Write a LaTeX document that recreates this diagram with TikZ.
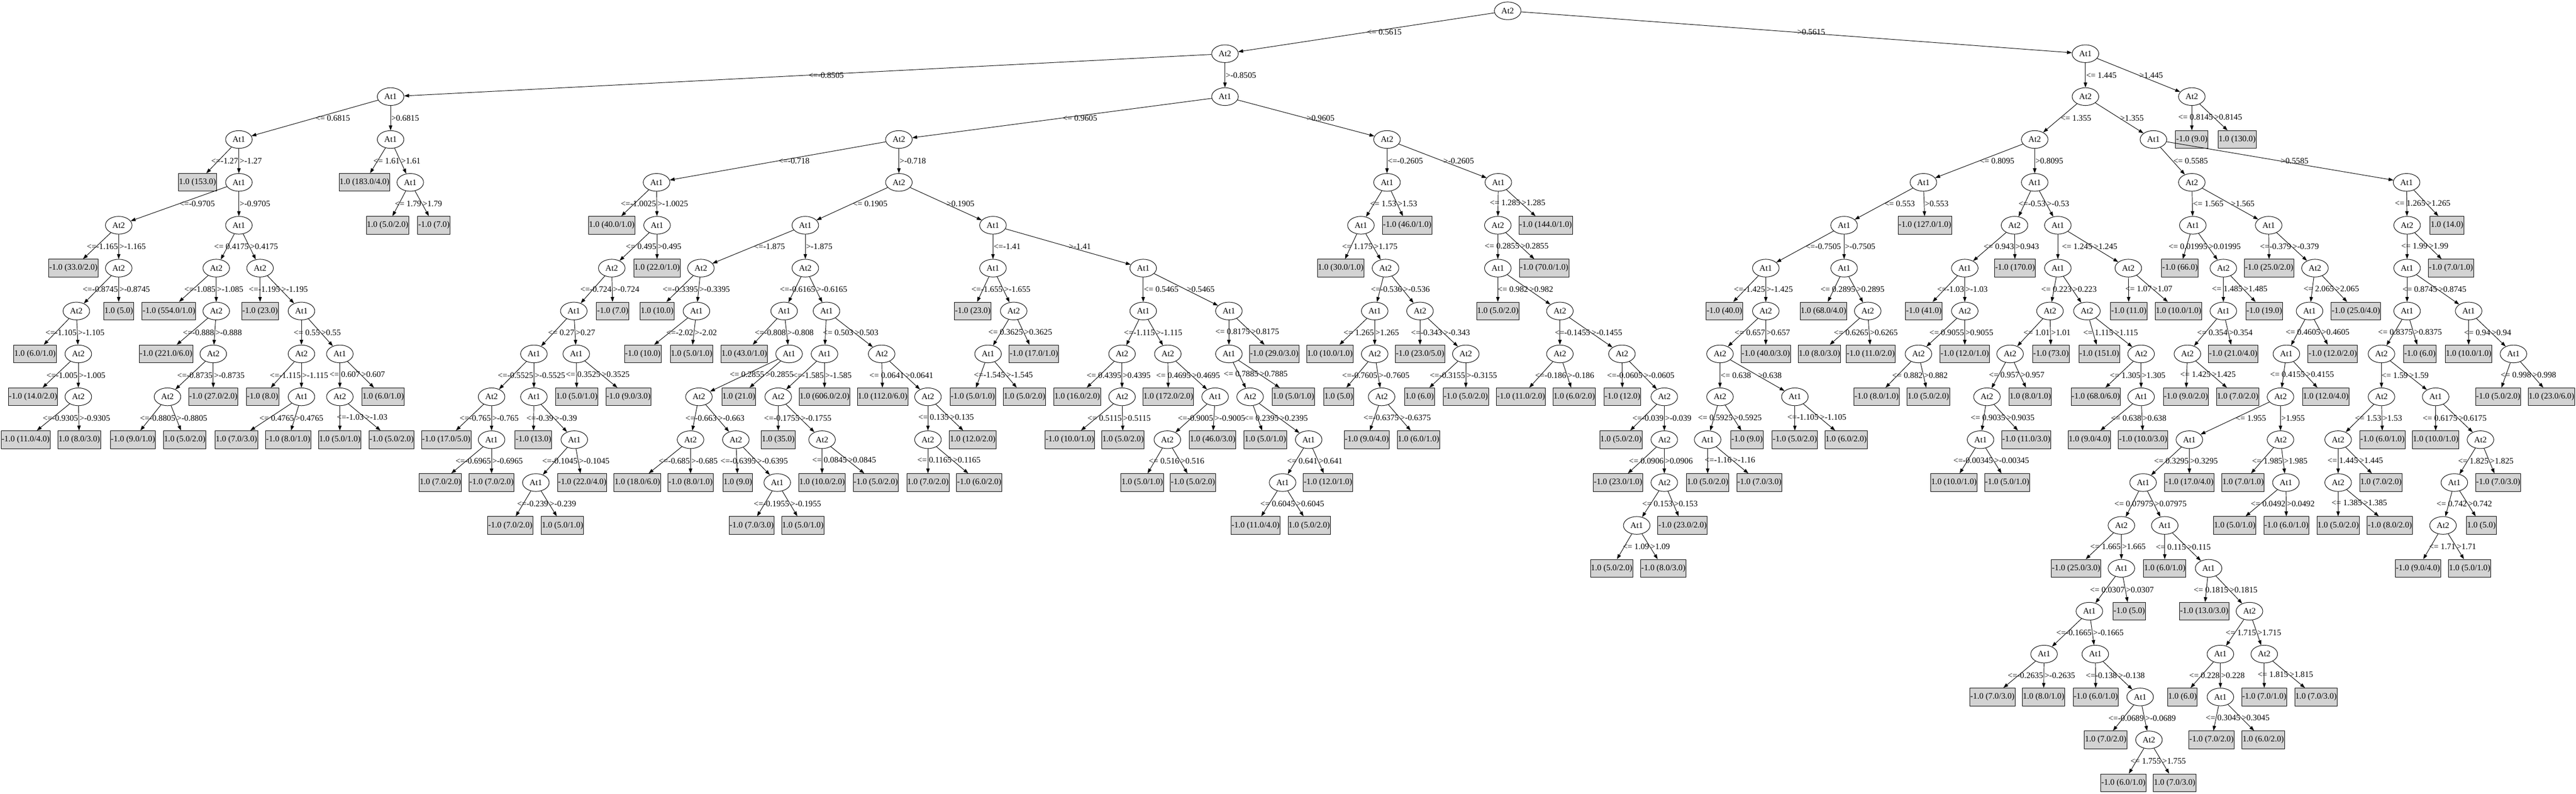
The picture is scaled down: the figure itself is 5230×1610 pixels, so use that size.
\documentclass[tikz,border=0pt]{standalone}
\usepackage{fontspec}
\setmainfont{Liberation Serif}
\usetikzlibrary{shapes.geometric}
\usetikzlibrary{arrows.meta}
\definecolor{leafgray}{HTML}{D3D3D3}
\tikzset{attnode/.style={ellipse,draw,line width=1pt,fill=white,minimum width=54pt,minimum height=36pt,inner sep=0pt},
	leafnode/.style={rectangle,draw,line width=1pt,fill=leafgray,minimum width=54pt,minimum height=36pt,inner xsep=1pt,inner ysep=0pt},
	cond/.style={anchor=west,inner sep=1pt},
	lcond/.style={anchor=east,inner sep=1pt}}

\begin{document}
\begin{tikzpicture}[x=1pt,y=-87pt,font=\fontsize{17}{20}\selectfont]
		\useasboundingbox (0pt,22pt) rectangle (5230pt,-1588pt);
		\begin{scope}[every node/.style={attnode}]
			\node (root) at (3061,0) {At2};
			\node (A) at (2487,1) {At2};
			\node (B) at (4234,1) {At1};
			\node (A1) at (793,2) {At1};
			\node (A2) at (2487,2) {At1};
			\node (A11) at (485,3) {At1};
			\node (A12) at (793,3) {At1};
			\node (A112) at (485,4) {At1};
			\node (A122) at (833,4) {At1};
			\node (N1) at (241,5) {At2};
			\node (N2) at (485,5) {At1};
			\node (N11) at (241,6) {At2};
			\node (N111) at (155,7) {At2};
			\node (N1111) at (159,8) {At2};
			\node (N11112) at (159,9) {At2};
			\node (N21) at (439,6) {At2};
			\node (N22) at (528,6) {At2};
			\node (N212) at (439,7) {At2};
			\node (N2122) at (433,8) {At2};
			\node (N21221) at (340,9) {At2};
			\node (N222) at (612,7) {At1};
			\node (N2221) at (612,8) {At2};
			\node (N2222) at (690,8) {At1};
			\node (N22212) at (612,9) {At1};
			\node (N22221) at (690,9) {At2};
			\node (B1) at (1825,3) {At2};
			\node (B2) at (2816,3) {At2};
			\node (C1) at (1333,4) {At1};
			\node (C2) at (1825,4) {At2};
			\node (C12) at (1334,5) {At1};
			\node (C121) at (1242,6) {At2};
			\node (C1211) at (1165,7) {At1};
			\node (D1) at (1084,8) {At1};
			\node (D2) at (1170,8) {At1};
			\node (D11) at (998,9) {At2};
			\node (D12) at (1084,9) {At1};
			\node (D112) at (998,10) {At1};
			\node (D122) at (1166,10) {At1};
			\node (D1221) at (1088,11) {At1};
			\node (E1) at (1635,5) {At1};
			\node (E2) at (2016,5) {At1};
			\node (E11) at (1423,6) {At2};
			\node (E12) at (1635,6) {At2};
			\node (E112) at (1414,7) {At1};
			\node (E121) at (1592,7) {At1};
			\node (E122) at (1678,7) {At1};
			\node (E1212) at (1602,8) {At1};
			\node (F1) at (1419,9) {At2};
			\node (F11) at (1402,10) {At2};
			\node (F12) at (1494,10) {At2};
			\node (F122) at (1578,11) {At1};
			\node (G1) at (1674,8) {At1};
			\node (G2) at (1790,8) {At2};
			\node (G11) at (1580,9) {At2};
			\node (G112) at (1669,10) {At2};
			\node (G22) at (1884,9) {At2};
			\node (G221) at (1884,10) {At2};
			\node (H1) at (2016,6) {At1};
			\node (H2) at (2321,6) {At1};
			\node (H12) at (2058,7) {At2};
			\node (H121) at (2006,8) {At1};
			\node (H21) at (2321,7) {At1};
			\node (H22) at (2495,7) {At1};
			\node (H211) at (2278,8) {At2};
			\node (H212) at (2371,8) {At2};
			\node (H2112) at (2278,9) {At2};
			\node (H2122) at (2467,9) {At1};
			\node (H21221) at (2370,10) {At2};
			\node (H221) at (2495,8) {At1};
			\node (H2211) at (2538,9) {At2};
			\node (H22112) at (2657,10) {At1};
			\node (H221121) at (2604,11) {At1};
			\node (J1) at (2816,4) {At1};
			\node (J2) at (3042,4) {At1};
			\node (J11) at (2763,5) {At1};
			\node (J112) at (2813,6) {At2};
			\node (J1121) at (2791,7) {At1};
			\node (J1122) at (2883,7) {At2};
			\node (J11212) at (2791,8) {At2};
			\node (J112122) at (2805,9) {At2};
			\node (J11222) at (2976,8) {At2};
			\node (K1) at (3041,5) {At2};
			\node (K11) at (3041,6) {At1};
			\node (K112) at (3167,7) {At2};
			\node (K1121) at (3167,8) {At2};
			\node (K1122) at (3293,8) {At2};
			\node (K11222) at (3379,9) {At2};
			\node (K112222) at (3379,10) {At2};
			\node (K1122222) at (3379,11) {At2};
			\node (K3) at (3323,12) {At1};
			\node (P1) at (4234,2) {At2};
			\node (P2) at (4450,2) {At2};
			\node (Q1) at (4131,3) {At2};
			\node (Q2) at (4372,3) {At1};
			\node (R1) at (3905,4) {At1};
			\node (R2) at (4131,4) {At1};
			\node (R11) at (3744,5) {At1};
			\node (R111) at (3585,6) {At1};
			\node (R112) at (3744,6) {At1};
			\node (R1112) at (3585,7) {At2};
			\node (R11121) at (3492,8) {At2};
			\node (R111211) at (3492,9) {At2};
			\node (R111212) at (3644,9) {At1};
			\node (S1) at (3467,10) {At1};
			\node (R1122) at (3792,7) {At2};
			\node (R21) at (4090,5) {At2};
			\node (R22) at (4178,5) {At1};
			\node (R211) at (3989,6) {At1};
			\node (R2112) at (3989,7) {At2};
			\node (R21121) at (3895,8) {At2};
			\node (R221) at (4178,6) {At1};
			\node (R222) at (4321,6) {At2};
			\node (R2211) at (4162,7) {At2};
			\node (R2212) at (4237,7) {At2};
			\node (R22111) at (4081,8) {At2};
			\node (R221111) at (4034,9) {At2};
			\node (R2211111) at (4021,10) {At1};
			\node (R22122) at (4347,8) {At2};
			\node (R221222) at (4347,9) {At1};
			\node (T1) at (4450,4) {At2};
			\node (T2) at (4886,4) {At1};
			\node (T11) at (4452,5) {At1};
			\node (T12) at (4606,5) {At1};
			\node (T112) at (4514,6) {At2};
			\node (T1121) at (4514,7) {At1};
			\node (T11211) at (4441,8) {At2};
			\node (T122) at (4700,6) {At2};
			\node (T1221) at (4689,7) {At1};
			\node (T12211) at (4642,8) {At1};
			\node (U) at (4630,9) {At2};
			\node (U1) at (4445,10) {At1};
			\node (U2) at (4630,10) {At2};
			\node (U11) at (4351,11) {At1};
			\node (U22) at (4641,11) {At1};
			\node (U111) at (4307,12) {At2};
			\node (U112) at (4395,12) {At1};
			\node (U1112) at (4307,13) {At1};
			\node (U11121) at (4242,14) {At1};
			\node (V1) at (4150,15) {At1};
			\node (V2) at (4254,15) {At1};
			\node (V22) at (4345,16) {At1};
			\node (V222) at (4363,17) {At2};
			\node (U1122) at (4484,13) {At1};
			\node (W) at (4567,14) {At2};
			\node (W1) at (4508,15) {At1};
			\node (W2) at (4597,15) {At2};
			\node (W12) at (4508,16) {At1};
			\node (X) at (4887,5) {At2};
			\node (X1) at (4887,6) {At1};
			\node (X11) at (4887,7) {At1};
			\node (X12) at (5012,7) {At1};
			\node (X111) at (4835,8) {At2};
			\node (X1111) at (4835,9) {At2};
			\node (X1112) at (4945,9) {At1};
			\node (X11111) at (4747,10) {At2};
			\node (X111111) at (4747,11) {At2};
			\node (X11122) at (5036,10) {At2};
			\node (X111221) at (4983,11) {At1};
			\node (X1112211) at (4960,12) {At2};
			\node (X122) at (5103,8) {At1};
		\end{scope}
		\begin{scope}[every node/.style={leafnode}]
			\node (A11l) at (401,4) {1.0 (153.0)};
			\node (A12l) at (740,4) {1.0 (183.0/4.0)};
			\node (A122l) at (787,5) {1.0 (5.0/2.0)};
			\node (A122r) at (881,5) {-1.0 (7.0)};
			\node (N1l) at (149,6) {-1.0 (33.0/2.0)};
			\node (N11r) at (241,7) {1.0 (5.0)};
			\node (N111l) at (71,8) {1.0 (6.0/1.0)};
			\node (N1111l) at (67,9) {-1.0 (14.0/2.0)};
			\node (N11112l) at (52,10) {-1.0 (11.0/4.0)};
			\node (N11112r) at (161,10) {1.0 (8.0/3.0)};
			\node (N21l) at (343,7) {-1.0 (554.0/1.0)};
			\node (N212l) at (337,8) {-1.0 (221.0/6.0)};
			\node (N2122r) at (433,9) {-1.0 (27.0/2.0)};
			\node (N21221l) at (270,10) {-1.0 (9.0/1.0)};
			\node (N21221r) at (375,10) {1.0 (5.0/2.0)};
			\node (N22l) at (528,7) {-1.0 (23.0)};
			\node (N2221l) at (533,9) {-1.0 (8.0)};
			\node (N22212l) at (480,10) {1.0 (7.0/3.0)};
			\node (N22212r) at (585,10) {-1.0 (8.0/1.0)};
			\node (N2222r) at (778,9) {1.0 (6.0/1.0)};
			\node (N22221l) at (690,10) {1.0 (5.0/1.0)};
			\node (N22221r) at (795,10) {-1.0 (5.0/2.0)};
			\node (C1l) at (1242,5) {1.0 (40.0/1.0)};
			\node (C12r) at (1334,6) {1.0 (22.0/1.0)};
			\node (C121r) at (1244,7) {-1.0 (7.0)};
			\node (D11l) at (906,10) {-1.0 (17.0/5.0)};
			\node (D112l) at (894,11) {1.0 (7.0/2.0)};
			\node (D112r) at (998,11) {-1.0 (7.0/2.0)};
			\node (D12l) at (1083,10) {-1.0 (13.0)};
			\node (D122r) at (1182,11) {-1.0 (22.0/4.0)};
			\node (D1221l) at (1036,12) {-1.0 (7.0/2.0)};
			\node (D1221r) at (1142,12) {1.0 (5.0/1.0)};
			\node (D2l) at (1171,9) {1.0 (5.0/1.0)};
			\node (D2r) at (1276,9) {-1.0 (9.0/3.0)};
			\node (E11l) at (1334,7) {1.0 (10.0)};
			\node (E112l) at (1305,8) {-1.0 (10.0)};
			\node (E112r) at (1404,8) {1.0 (5.0/1.0)};
			\node (E121l) at (1511,8) {1.0 (43.0/1.0)};
			\node (E1212r) at (1500,9) {1.0 (21.0)};
			\node (F11l) at (1294,11) {1.0 (18.0/6.0)};
			\node (F11r) at (1402,11) {-1.0 (8.0/1.0)};
			\node (F12l) at (1498,11) {1.0 (9.0)};
			\node (F122l) at (1526,12) {-1.0 (7.0/3.0)};
			\node (F122r) at (1630,12) {1.0 (5.0/1.0)};
			\node (G1r) at (1674,9) {1.0 (606.0/2.0)};
			\node (G11l) at (1580,10) {1.0 (35.0)};
			\node (G112l) at (1669,11) {1.0 (10.0/2.0)};
			\node (G112r) at (1778,11) {-1.0 (5.0/2.0)};
			\node (G2l) at (1792,9) {1.0 (112.0/6.0)};
			\node (G22r) at (1975,10) {1.0 (12.0/2.0)};
			\node (G221l) at (1884,11) {1.0 (7.0/2.0)};
			\node (G221r) at (1988,11) {-1.0 (6.0/2.0)};
			\node (H1l) at (1975,7) {-1.0 (23.0)};
			\node (H12r) at (2099,8) {-1.0 (17.0/1.0)};
			\node (H121l) at (1975,9) {-1.0 (5.0/1.0)};
			\node (H121r) at (2080,9) {1.0 (5.0/2.0)};
			\node (H211l) at (2187,9) {1.0 (16.0/2.0)};
			\node (H2112l) at (2172,10) {-1.0 (10.0/1.0)};
			\node (H2112r) at (2280,10) {1.0 (5.0/2.0)};
			\node (H212l) at (2372,9) {1.0 (172.0/2.0)};
			\node (H2122r) at (2462,10) {1.0 (46.0/3.0)};
			\node (H21221l) at (2319,11) {1.0 (5.0/1.0)};
			\node (H21221r) at (2422,11) {-1.0 (5.0/2.0)};
			\node (H22r) at (2587,8) {-1.0 (29.0/3.0)};
			\node (H221r) at (2626,9) {1.0 (5.0/1.0)};
			\node (H2211l) at (2569,10) {1.0 (5.0/1.0)};
			\node (H22112r) at (2696,11) {-1.0 (12.0/1.0)};
			\node (H221121l) at (2549,12) {-1.0 (11.0/4.0)};
			\node (H221121r) at (2658,12) {1.0 (5.0/2.0)};
			\node (J1r) at (2857,5) {-1.0 (46.0/1.0)};
			\node (J11l) at (2722,6) {1.0 (30.0/1.0)};
			\node (J1121l) at (2700,8) {1.0 (10.0/1.0)};
			\node (J11212l) at (2718,9) {1.0 (5.0)};
			\node (J112122l) at (2775,10) {-1.0 (9.0/4.0)};
			\node (J112122r) at (2880,10) {1.0 (6.0/1.0)};
			\node (J1122l) at (2883,8) {-1.0 (23.0/5.0)};
			\node (J11222l) at (2882,9) {1.0 (6.0)};
			\node (J11222r) at (2976,9) {-1.0 (5.0/2.0)};
			\node (J2r) at (3138,5) {-1.0 (144.0/1.0)};
			\node (K1r) at (3135,6) {-1.0 (70.0/1.0)};
			\node (K11l) at (3041,7) {1.0 (5.0/2.0)};
			\node (K1121l) at (3088,9) {-1.0 (11.0/2.0)};
			\node (K1121r) at (3196,9) {1.0 (6.0/2.0)};
			\node (K1122l) at (3294,9) {-1.0 (12.0)};
			\node (K11222l) at (3291,10) {1.0 (5.0/2.0)};
			\node (K112222l) at (3285,11) {-1.0 (23.0/1.0)};
			\node (K1122222r) at (3416,12) {-1.0 (23.0/2.0)};
			\node (K3l) at (3272,13) {1.0 (5.0/2.0)};
			\node (K3r) at (3377,13) {-1.0 (8.0/3.0)};
			\node (P2l) at (4450,3) {-1.0 (9.0)};
			\node (P2r) at (4542,3) {1.0 (130.0)};
			\node (R1r) at (3908,5) {-1.0 (127.0/1.0)};
			\node (R111l) at (3501,7) {-1.0 (40.0)};
			\node (R1112r) at (3585,8) {-1.0 (40.0/3.0)};
			\node (R111211r) at (3547,10) {-1.0 (9.0)};
			\node (S1l) at (3467,11) {1.0 (5.0/2.0)};
			\node (S1r) at (3572,11) {-1.0 (7.0/3.0)};
			\node (R111212l) at (3644,10) {-1.0 (5.0/2.0)};
			\node (R111212r) at (3748,10) {1.0 (6.0/2.0)};
			\node (R112l) at (3702,7) {1.0 (68.0/4.0)};
			\node (R1122l) at (3694,8) {1.0 (8.0/3.0)};
			\node (R1122r) at (3798,8) {-1.0 (11.0/2.0)};
			\node (R21r) at (4091,6) {-1.0 (170.0)};
			\node (R211l) at (3906,7) {-1.0 (41.0)};
			\node (R2112r) at (3989,8) {-1.0 (12.0/1.0)};
			\node (R21121l) at (3810,9) {-1.0 (8.0/1.0)};
			\node (R21121r) at (3915,9) {1.0 (5.0/2.0)};
			\node (R2211r) at (4164,8) {-1.0 (73.0)};
			\node (R22111r) at (4122,9) {1.0 (8.0/1.0)};
			\node (R221111r) at (4114,10) {-1.0 (11.0/3.0)};
			\node (R2211111l) at (3967,11) {1.0 (10.0/1.0)};
			\node (R2211111r) at (4075,11) {-1.0 (5.0/1.0)};
			\node (R2212l) at (4262,8) {-1.0 (151.0)};
			\node (R22122l) at (4255,9) {-1.0 (68.0/6.0)};
			\node (R221222l) at (4242,10) {1.0 (9.0/4.0)};
			\node (R221222r) at (4351,10) {-1.0 (10.0/3.0)};
			\node (R222l) at (4322,7) {-1.0 (11.0)};
			\node (R222r) at (4423,7) {1.0 (10.0/1.0)};
			\node (T11l) at (4426,6) {-1.0 (66.0)};
			\node (T112r) at (4597,7) {-1.0 (19.0)};
			\node (T1121r) at (4534,8) {-1.0 (21.0/4.0)};
			\node (T11211l) at (4438,9) {-1.0 (9.0/2.0)};
			\node (T11211r) at (4543,9) {1.0 (7.0/2.0)};
			\node (T12l) at (4607,6) {-1.0 (25.0/2.0)};
			\node (T122r) at (4783,7) {-1.0 (25.0/4.0)};
			\node (T1221r) at (4736,8) {-1.0 (12.0/2.0)};
			\node (T12211r) at (4722,9) {1.0 (12.0/4.0)};
			\node (U1r) at (4445,11) {-1.0 (17.0/4.0)};
			\node (U2l) at (4554,11) {1.0 (7.0/1.0)};
			\node (U22l) at (4537,12) {1.0 (5.0/1.0)};
			\node (U22r) at (4642,12) {-1.0 (6.0/1.0)};
			\node (U111l) at (4215,13) {-1.0 (25.0/3.0)};
			\node (U1112r) at (4323,14) {-1.0 (5.0)};
			\node (V1l) at (4045,16) {-1.0 (7.0/3.0)};
			\node (V1r) at (4149,16) {1.0 (8.0/1.0)};
			\node (V2l) at (4255,16) {-1.0 (6.0/1.0)};
			\node (V22l) at (4275,17) {1.0 (7.0/2.0)};
			\node (V222l) at (4311,18) {-1.0 (6.0/1.0)};
			\node (V222r) at (4415,18) {1.0 (7.0/3.0)};
			\node (U112l) at (4395,13) {1.0 (6.0/1.0)};
			\node (U1122l) at (4475,14) {-1.0 (13.0/3.0)};
			\node (W1l) at (4431,16) {1.0 (6.0)};
			\node (W12l) at (4490,17) {-1.0 (7.0/2.0)};
			\node (W12r) at (4595,17) {1.0 (6.0/2.0)};
			\node (W2l) at (4597,16) {-1.0 (7.0/1.0)};
			\node (W2r) at (4702,16) {1.0 (7.0/3.0)};
			\node (T2r) at (4968,5) {1.0 (14.0)};
			\node (Xr) at (4976,6) {-1.0 (7.0/1.0)};
			\node (X11r) at (4913,8) {-1.0 (6.0)};
			\node (X1111r) at (4837,10) {-1.0 (6.0/1.0)};
			\node (X11111r) at (4834,11) {1.0 (7.0/2.0)};
			\node (X111111l) at (4747,12) {1.0 (5.0/2.0)};
			\node (X111111r) at (4852,12) {-1.0 (8.0/2.0)};
			\node (X1112l) at (4945,10) {1.0 (10.0/1.0)};
			\node (X11122r) at (5072,11) {-1.0 (7.0/3.0)};
			\node (X111221r) at (5038,12) {1.0 (5.0)};
			\node (X1112211l) at (4909,13) {-1.0 (9.0/4.0)};
			\node (X1112211r) at (5014,13) {1.0 (5.0/1.0)};
			\node (X12l) at (5012,8) {1.0 (10.0/1.0)};
			\node (X122l) at (5072,9) {-1.0 (5.0/2.0)};
			\node (X122r) at (5180,9) {1.0 (23.0/6.0)};
		\end{scope}
		\begin{scope}[>={Triangle[length=10pt,width=7pt]},
			every node/.style={cond},
			every edge/.style={draw,line width=1pt}]
			\path [->] (root) edge node {<= 0.5615} (A);
			\path [->] (root) edge node {>0.5615} (B);
			\path [->] (A) edge node {<=-0.8505} (A1);
			\path [->] (A) edge node {>-0.8505} (A2);
			\path [->] (A1) edge node {<= 0.6815} (A11);
			\path [->] (A1) edge node {>0.6815} (A12);
			\path [->] (A11) edge (A11l);
			\path [->] (A11) edge node[lcond] {<=-1.27} node {>-1.27} (A112);
			\path [->] (A12) edge (A12l);
			\path [->] (A12) edge node[lcond] {<= 1.61} node {>1.61} (A122);
			\path [->] (A122) edge (A122l);
			\path [->] (A122) edge node[lcond] {<= 1.79} node {>1.79} (A122r);
			\path [->] (A112) edge node {<=-0.9705} (N1);
			\path [->] (A112) edge node {>-0.9705} (N2);
			\path [->] (N1) edge (N1l);
			\path [->] (N1) edge node[lcond] {<=-1.165} node {>-1.165} (N11);
			\path [->] (N11) edge (N111);
			\path [->] (N11) edge node[lcond] {<=-0.8745} node {>-0.8745} (N11r);
			\path [->] (N111) edge (N111l);
			\path [->] (N111) edge node[lcond] {<=-1.105} node {>-1.105} (N1111);
			\path [->] (N1111) edge (N1111l);
			\path [->] (N1111) edge node[lcond] {<=-1.005} node {>-1.005} (N11112);
			\path [->] (N11112) edge (N11112l);
			\path [->] (N11112) edge node[lcond] {<=-0.9305} node {>-0.9305} (N11112r);
			\path [->] (N2) edge (N21);
			\path [->] (N2) edge node[lcond] {<= 0.4175} node {>0.4175} (N22);
			\path [->] (N21) edge (N21l);
			\path [->] (N21) edge node[lcond] {<=-1.085} node {>-1.085} (N212);
			\path [->] (N212) edge (N212l);
			\path [->] (N212) edge node[lcond] {<=-0.888} node {>-0.888} (N2122);
			\path [->] (N2122) edge (N21221);
			\path [->] (N2122) edge node[lcond] {<=-0.8735} node {>-0.8735} (N2122r);
			\path [->] (N21221) edge (N21221l);
			\path [->] (N21221) edge node[lcond] {<=-0.8805} node {>-0.8805} (N21221r);
			\path [->] (N22) edge (N22l);
			\path [->] (N22) edge node[lcond] {<=-1.195} node {>-1.195} (N222);
			\path [->] (N222) edge (N2221);
			\path [->] (N222) edge node[lcond] {<= 0.55} node {>0.55} (N2222);
			\path [->] (N2221) edge (N2221l);
			\path [->] (N2221) edge node[lcond] {<=-1.115} node {>-1.115} (N22212);
			\path [->] (N22212) edge (N22212l);
			\path [->] (N22212) edge node[lcond] {<= 0.4765} node {>0.4765} (N22212r);
			\path [->] (N2222) edge (N22221);
			\path [->] (N2222) edge node[lcond] {<= 0.607} node {>0.607} (N2222r);
			\path [->] (N22221) edge (N22221l);
			\path [->] (N22221) edge node[lcond] {<=-1.03} node {>-1.03} (N22221r);
			\path [->] (A2) edge node {<= 0.9605} (B1);
			\path [->] (A2) edge node {>0.9605} (B2);
			\path [->] (B1) edge node {<=-0.718} (C1);
			\path [->] (B1) edge node {>-0.718} (C2);
			\path [->] (C1) edge (C1l);
			\path [->] (C1) edge node[lcond] {<=-1.0025} node {>-1.0025} (C12);
			\path [->] (C12) edge (C121);
			\path [->] (C12) edge node[lcond] {<= 0.495} node {>0.495} (C12r);
			\path [->] (C121) edge (C1211);
			\path [->] (C121) edge node[lcond] {<=-0.724} node {>-0.724} (C121r);
			\path [->] (C1211) edge (D1);
			\path [->] (C1211) edge node[lcond] {<= 0.27} node {>0.27} (D2);
			\path [->] (D1) edge (D11);
			\path [->] (D1) edge node[lcond] {<=-0.5525} node {>-0.5525} (D12);
			\path [->] (D11) edge (D11l);
			\path [->] (D11) edge node[lcond] {<=-0.765} node {>-0.765} (D112);
			\path [->] (D112) edge (D112l);
			\path [->] (D112) edge node[lcond] {<=-0.6965} node {>-0.6965} (D112r);
			\path [->] (D12) edge (D12l);
			\path [->] (D12) edge node[lcond] {<=-0.39} node {>-0.39} (D122);
			\path [->] (D122) edge (D1221);
			\path [->] (D122) edge node[lcond] {<=-0.1045} node {>-0.1045} (D122r);
			\path [->] (D1221) edge (D1221l);
			\path [->] (D1221) edge node[lcond] {<=-0.239} node {>-0.239} (D1221r);
			\path [->] (D2) edge (D2l);
			\path [->] (D2) edge node[lcond] {<= 0.3525} node {>0.3525} (D2r);
			\path [->] (C2) edge node {<= 0.1905} (E1);
			\path [->] (C2) edge node {>0.1905} (E2);
			\path [->] (E1) edge node {<=-1.875} (E11);
			\path [->] (E1) edge node {>-1.875} (E12);
			\path [->] (E11) edge (E11l);
			\path [->] (E11) edge node[lcond] {<=-0.3395} node {>-0.3395} (E112);
			\path [->] (E112) edge (E112l);
			\path [->] (E112) edge node[lcond] {<=-2.02} node {>-2.02} (E112r);
			\path [->] (E12) edge (E121);
			\path [->] (E12) edge node[lcond] {<=-0.6165} node {>-0.6165} (E122);
			\path [->] (E121) edge (E121l);
			\path [->] (E121) edge node[lcond] {<=-0.808} node {>-0.808} (E1212);
			\path [->] (E1212) edge (F1);
			\path [->] (E1212) edge node[lcond] {<= 0.2855} node {>0.2855} (E1212r);
			\path [->] (F1) edge (F11);
			\path [->] (F1) edge node[lcond] {<=-0.663} node {>-0.663} (F12);
			\path [->] (F11) edge (F11l);
			\path [->] (F11) edge node[lcond] {<=-0.685} node {>-0.685} (F11r);
			\path [->] (F12) edge (F12l);
			\path [->] (F12) edge node[lcond] {<=-0.6395} node {>-0.6395} (F122);
			\path [->] (F122) edge (F122l);
			\path [->] (F122) edge node[lcond] {<=-0.1955} node {>-0.1955} (F122r);
			\path [->] (E122) edge (G1);
			\path [->] (E122) edge node[lcond] {<= 0.503} node {>0.503} (G2);
			\path [->] (G1) edge (G11);
			\path [->] (G1) edge node[lcond] {<=-1.585} node {>-1.585} (G1r);
			\path [->] (G11) edge (G11l);
			\path [->] (G11) edge node[lcond] {<=-0.1755} node {>-0.1755} (G112);
			\path [->] (G112) edge (G112l);
			\path [->] (G112) edge node[lcond] {<= 0.0845} node {>0.0845} (G112r);
			\path [->] (G2) edge (G2l);
			\path [->] (G2) edge node[lcond] {<= 0.0641} node {>0.0641} (G22);
			\path [->] (G22) edge (G221);
			\path [->] (G22) edge node[lcond] {<= 0.135} node {>0.135} (G22r);
			\path [->] (G221) edge (G221l);
			\path [->] (G221) edge node[lcond] {<= 0.1165} node {>0.1165} (G221r);
			\path [->] (E2) edge node {<=-1.41} (H1);
			\path [->] (E2) edge node {>-1.41} (H2);
			\path [->] (H1) edge (H1l);
			\path [->] (H1) edge node[lcond] {<=-1.655} node {>-1.655} (H12);
			\path [->] (H12) edge (H121);
			\path [->] (H12) edge node[lcond] {<= 0.3625} node {>0.3625} (H12r);
			\path [->] (H121) edge (H121l);
			\path [->] (H121) edge node[lcond] {<=-1.545} node {>-1.545} (H121r);
			\path [->] (H2) edge node {<= 0.5465} (H21);
			\path [->] (H2) edge node {>0.5465} (H22);
			\path [->] (H21) edge (H211);
			\path [->] (H21) edge node[lcond] {<=-1.115} node {>-1.115} (H212);
			\path [->] (H211) edge (H211l);
			\path [->] (H211) edge node[lcond] {<= 0.4395} node {>0.4395} (H2112);
			\path [->] (H2112) edge (H2112l);
			\path [->] (H2112) edge node[lcond] {<= 0.5115} node {>0.5115} (H2112r);
			\path [->] (H212) edge (H212l);
			\path [->] (H212) edge node[lcond] {<= 0.4695} node {>0.4695} (H2122);
			\path [->] (H2122) edge (H21221);
			\path [->] (H2122) edge node[lcond] {<=-0.9005} node {>-0.9005} (H2122r);
			\path [->] (H21221) edge (H21221l);
			\path [->] (H21221) edge node[lcond] {<= 0.516} node {>0.516} (H21221r);
			\path [->] (H22) edge (H221);
			\path [->] (H22) edge node[lcond] {<= 0.8175} node {>0.8175} (H22r);
			\path [->] (H221) edge (H2211);
			\path [->] (H221) edge node[lcond] {<= 0.7885} node {>0.7885} (H221r);
			\path [->] (H2211) edge (H2211l);
			\path [->] (H2211) edge node[lcond] {<= 0.2395} node {>0.2395} (H22112);
			\path [->] (H22112) edge (H221121);
			\path [->] (H22112) edge node[lcond] {<= 0.641} node {>0.641} (H22112r);
			\path [->] (H221121) edge (H221121l);
			\path [->] (H221121) edge node[lcond] {<= 0.6045} node {>0.6045} (H221121r);
			\path [->] (B2) edge node {<=-0.2605} (J1);
			\path [->] (B2) edge node {>-0.2605} (J2);
			\path [->] (J1) edge (J11);
			\path [->] (J1) edge node[lcond] {<= 1.53} node {>1.53} (J1r);
			\path [->] (J11) edge (J11l);
			\path [->] (J11) edge node[lcond] {<= 1.175} node {>1.175} (J112);
			\path [->] (J112) edge (J1121);
			\path [->] (J112) edge node[lcond] {<=-0.536} node {>-0.536} (J1122);
			\path [->] (J1121) edge (J1121l);
			\path [->] (J1121) edge node[lcond] {<= 1.265} node {>1.265} (J11212);
			\path [->] (J11212) edge (J11212l);
			\path [->] (J11212) edge node[lcond] {<=-0.7605} node {>-0.7605} (J112122);
			\path [->] (J112122) edge (J112122l);
			\path [->] (J112122) edge node[lcond] {<=-0.6375} node {>-0.6375} (J112122r);
			\path [->] (J1122) edge (J1122l);
			\path [->] (J1122) edge node[lcond] {<=-0.343} node {>-0.343} (J11222);
			\path [->] (J11222) edge (J11222l);
			\path [->] (J11222) edge node[lcond] {<=-0.3155} node {>-0.3155} (J11222r);
			\path [->] (J2) edge (K1);
			\path [->] (J2) edge node[lcond] {<= 1.285} node {>1.285} (J2r);
			\path [->] (K1) edge (K11);
			\path [->] (K1) edge node[lcond] {<= 0.2855} node {>0.2855} (K1r);
			\path [->] (K11) edge (K11l);
			\path [->] (K11) edge node[lcond] {<= 0.982} node {>0.982} (K112);
			\path [->] (K112) edge (K1121);
			\path [->] (K112) edge node[lcond] {<=-0.1455} node {>-0.1455} (K1122);
			\path [->] (K1121) edge (K1121l);
			\path [->] (K1121) edge node[lcond] {<=-0.186} node {>-0.186} (K1121r);
			\path [->] (K1122) edge (K1122l);
			\path [->] (K1122) edge node[lcond] {<=-0.0605} node {>-0.0605} (K11222);
			\path [->] (K11222) edge (K11222l);
			\path [->] (K11222) edge node[lcond] {<=-0.039} node {>-0.039} (K112222);
			\path [->] (K112222) edge (K112222l);
			\path [->] (K112222) edge node[lcond] {<= 0.0906} node {>0.0906} (K1122222);
			\path [->] (K1122222) edge (K3);
			\path [->] (K1122222) edge node[lcond] {<= 0.153} node {>0.153} (K1122222r);
			\path [->] (K3) edge (K3l);
			\path [->] (K3) edge node[lcond] {<= 1.09} node {>1.09} (K3r);
			\path [->] (B) edge node {<= 1.445} (P1);
			\path [->] (B) edge node {>1.445} (P2);
			\path [->] (P2) edge (P2l);
			\path [->] (P2) edge node[lcond] {<= 0.8145} node {>0.8145} (P2r);
			\path [->] (P1) edge node {<= 1.355} (Q1);
			\path [->] (P1) edge node {>1.355} (Q2);
			\path [->] (Q1) edge node {<= 0.8095} (R1);
			\path [->] (Q1) edge node {>0.8095} (R2);
			\path [->] (R1) edge node {<= 0.553} (R11);
			\path [->] (R1) edge node {>0.553} (R1r);
			\path [->] (R11) edge node {<=-0.7505} (R111);
			\path [->] (R11) edge node {>-0.7505} (R112);
			\path [->] (R111) edge (R111l);
			\path [->] (R111) edge node[lcond] {<=-1.425} node {>-1.425} (R1112);
			\path [->] (R1112) edge (R11121);
			\path [->] (R1112) edge node[lcond] {<= 0.657} node {>0.657} (R1112r);
			\path [->] (R11121) edge node {<= 0.638} (R111211);
			\path [->] (R11121) edge node {>0.638} (R111212);
			\path [->] (R111211) edge (S1);
			\path [->] (R111211) edge node[lcond] {<= 0.5925} node {>0.5925} (R111211r);
			\path [->] (S1) edge (S1l);
			\path [->] (S1) edge node[lcond] {<=-1.16} node {>-1.16} (S1r);
			\path [->] (R111212) edge (R111212l);
			\path [->] (R111212) edge node[lcond] {<=-1.105} node {>-1.105} (R111212r);
			\path [->] (R112) edge (R112l);
			\path [->] (R112) edge node[lcond] {<= 0.2895} node {>0.2895} (R1122);
			\path [->] (R1122) edge (R1122l);
			\path [->] (R1122) edge node[lcond] {<= 0.6265} node {>0.6265} (R1122r);
			\path [->] (R2) edge (R21);
			\path [->] (R2) edge node[lcond] {<=-0.53} node {>-0.53} (R22);
			\path [->] (R21) edge (R211);
			\path [->] (R21) edge node[lcond] {<= 0.943} node {>0.943} (R21r);
			\path [->] (R211) edge (R211l);
			\path [->] (R211) edge node[lcond] {<=-1.03} node {>-1.03} (R2112);
			\path [->] (R2112) edge (R21121);
			\path [->] (R2112) edge node[lcond] {<= 0.9055} node {>0.9055} (R2112r);
			\path [->] (R21121) edge (R21121l);
			\path [->] (R21121) edge node[lcond] {<= 0.882} node {>0.882} (R21121r);
			\path [->] (R22) edge (R221);
			\path [->] (R22) edge node[lcond] {<= 1.245} node {>1.245} (R222);
			\path [->] (R221) edge (R2211);
			\path [->] (R221) edge node[lcond] {<= 0.223} node {>0.223} (R2212);
			\path [->] (R2211) edge (R22111);
			\path [->] (R2211) edge node[lcond] {<= 1.01} node {>1.01} (R2211r);
			\path [->] (R22111) edge (R221111);
			\path [->] (R22111) edge node[lcond] {<= 0.957} node {>0.957} (R22111r);
			\path [->] (R221111) edge (R2211111);
			\path [->] (R221111) edge node[lcond] {<= 0.9035} node {>0.9035} (R221111r);
			\path [->] (R2211111) edge (R2211111l);
			\path [->] (R2211111) edge node[lcond] {<=-0.00345} node {>-0.00345} (R2211111r);
			\path [->] (R2212) edge (R2212l);
			\path [->] (R2212) edge node[lcond] {<= 1.115} node {>1.115} (R22122);
			\path [->] (R22122) edge (R22122l);
			\path [->] (R22122) edge node[lcond] {<= 1.305} node {>1.305} (R221222);
			\path [->] (R221222) edge (R221222l);
			\path [->] (R221222) edge node[lcond] {<= 0.638} node {>0.638} (R221222r);
			\path [->] (R222) edge (R222l);
			\path [->] (R222) edge node[lcond] {<= 1.07} node {>1.07} (R222r);
			\path [->] (Q2) edge node {<= 0.5585} (T1);
			\path [->] (Q2) edge node {>0.5585} (T2);
			\path [->] (T1) edge node {<= 1.565} (T11);
			\path [->] (T1) edge node {>1.565} (T12);
			\path [->] (T11) edge (T11l);
			\path [->] (T11) edge node[lcond] {<= 0.01995} node {>0.01995} (T112);
			\path [->] (T112) edge (T1121);
			\path [->] (T112) edge node[lcond] {<= 1.485} node {>1.485} (T112r);
			\path [->] (T1121) edge (T11211);
			\path [->] (T1121) edge node[lcond] {<= 0.354} node {>0.354} (T1121r);
			\path [->] (T11211) edge (T11211l);
			\path [->] (T11211) edge node[lcond] {<= 1.425} node {>1.425} (T11211r);
			\path [->] (T12) edge (T12l);
			\path [->] (T12) edge node[lcond] {<=-0.379} node {>-0.379} (T122);
			\path [->] (T122) edge (T1221);
			\path [->] (T122) edge node[lcond] {<= 2.065} node {>2.065} (T122r);
			\path [->] (T1221) edge (T12211);
			\path [->] (T1221) edge node[lcond] {<= 0.4605} node {>0.4605} (T1221r);
			\path [->] (T12211) edge (U);
			\path [->] (T12211) edge node[lcond] {<= 0.4155} node {>0.4155} (T12211r);
			\path [->] (U) edge node {<= 1.955} (U1);
			\path [->] (U) edge node {>1.955} (U2);
			\path [->] (U1) edge (U11);
			\path [->] (U1) edge node[lcond] {<= 0.3295} node {>0.3295} (U1r);
			\path [->] (U2) edge (U2l);
			\path [->] (U2) edge node[lcond] {<= 1.985} node {>1.985} (U22);
			\path [->] (U22) edge (U22l);
			\path [->] (U22) edge node[lcond] {<= 0.0492} node {>0.0492} (U22r);
			\path [->] (U11) edge (U111);
			\path [->] (U11) edge node[lcond] {<= 0.07975} node {>0.07975} (U112);
			\path [->] (U111) edge (U111l);
			\path [->] (U111) edge node[lcond] {<= 1.665} node {>1.665} (U1112);
			\path [->] (U1112) edge (U11121);
			\path [->] (U1112) edge node[lcond] {<= 0.0307} node {>0.0307} (U1112r);
			\path [->] (U11121) edge (V1);
			\path [->] (U11121) edge node[lcond] {<=-0.1665} node {>-0.1665} (V2);
			\path [->] (V1) edge (V1l);
			\path [->] (V1) edge node[lcond] {<=-0.2635} node {>-0.2635} (V1r);
			\path [->] (V2) edge (V2l);
			\path [->] (V2) edge node[lcond] {<=-0.138} node {>-0.138} (V22);
			\path [->] (V22) edge (V22l);
			\path [->] (V22) edge node[lcond] {<=-0.0689} node {>-0.0689} (V222);
			\path [->] (V222) edge (V222l);
			\path [->] (V222) edge node[lcond] {<= 1.755} node {>1.755} (V222r);
			\path [->] (U112) edge (U112l);
			\path [->] (U112) edge node[lcond] {<= 0.115} node {>0.115} (U1122);
			\path [->] (U1122) edge (U1122l);
			\path [->] (U1122) edge node[lcond] {<= 0.1815} node {>0.1815} (W);
			\path [->] (W) edge (W1);
			\path [->] (W) edge node[lcond] {<= 1.715} node {>1.715} (W2);
			\path [->] (W1) edge (W1l);
			\path [->] (W1) edge node[lcond] {<= 0.228} node {>0.228} (W12);
			\path [->] (W12) edge (W12l);
			\path [->] (W12) edge node[lcond] {<= 0.3045} node {>0.3045} (W12r);
			\path [->] (W2) edge (W2l);
			\path [->] (W2) edge node[lcond] {<= 1.815} node {>1.815} (W2r);
			\path [->] (T2) edge (X);
			\path [->] (T2) edge node[lcond] {<= 1.265} node {>1.265} (T2r);
			\path [->] (X) edge (X1);
			\path [->] (X) edge node[lcond] {<= 1.99} node {>1.99} (Xr);
			\path [->] (X1) edge (X11);
			\path [->] (X1) edge node[lcond] {<= 0.8745} node {>0.8745} (X12);
			\path [->] (X11) edge (X111);
			\path [->] (X11) edge node[lcond] {<= 0.8375} node {>0.8375} (X11r);
			\path [->] (X111) edge (X1111);
			\path [->] (X111) edge node[lcond] {<= 1.59} node {>1.59} (X1112);
			\path [->] (X1111) edge (X11111);
			\path [->] (X1111) edge node[lcond] {<= 1.53} node {>1.53} (X1111r);
			\path [->] (X11111) edge (X111111);
			\path [->] (X11111) edge node[lcond] {<= 1.445} node {>1.445} (X11111r);
			\path [->] (X111111) edge (X111111l);
			\path [->] (X111111) edge node[lcond] {<= 1.385} node {>1.385} (X111111r);
			\path [->] (X1112) edge (X1112l);
			\path [->] (X1112) edge node[lcond] {<= 0.6175} node {>0.6175} (X11122);
			\path [->] (X11122) edge (X111221);
			\path [->] (X11122) edge node[lcond] {<= 1.825} node {>1.825} (X11122r);
			\path [->] (X111221) edge (X1112211);
			\path [->] (X111221) edge node[lcond] {<= 0.742} node {>0.742} (X111221r);
			\path [->] (X1112211) edge (X1112211l);
			\path [->] (X1112211) edge node[lcond] {<= 1.71} node {>1.71} (X1112211r);
			\path [->] (X12) edge (X12l);
			\path [->] (X12) edge node[lcond] {<= 0.94} node {>0.94} (X122);
			\path [->] (X122) edge (X122l);
			\path [->] (X122) edge node[lcond] {<= 0.998} node {>0.998} (X122r);
		\end{scope}
	\end{tikzpicture}
\end{document}
